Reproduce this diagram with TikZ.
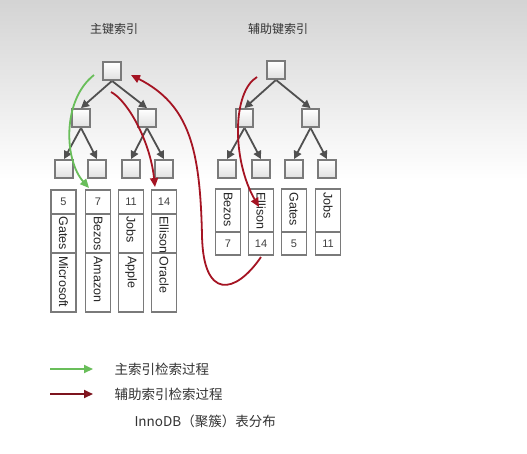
\documentclass[tikz,border=0pt]{standalone}
\usepackage{fontspec}
\setmainfont{Liberation Sans}
\newfontfamily\cjk{Noto Sans CJK SC}
\usetikzlibrary{arrows.meta}
\definecolor{boxgray}{RGB}{122,122,122}
\definecolor{arrgray}{RGB}{80,80,80}
\definecolor{myred}{RGB}{165,20,35}
\definecolor{darkred}{RGB}{125,20,30}
\definecolor{mygreen}{RGB}{105,190,90}
\definecolor{txt}{RGB}{51,51,51}
\begin{document}
\begin{tikzpicture}[x=1pt,y=-1pt,
 treebox/.style={draw=boxgray, line width=2.3pt, minimum size=17.5pt, inner sep=0pt, top color=white, bottom color=black!12},
 treearr/.style={draw=arrgray, line width=1.8pt, -{Triangle[length=8pt,width=8pt]}, shorten <=0.5pt},
 cell/.style={draw=boxgray, line width=1.5pt, fill=white, minimum width=25pt, inner sep=0pt},
 celltext/.style={font=\fontsize{12.5}{12.5}\selectfont, text=black!85, inner sep=0pt, rotate=-90, anchor=west},
 numtext/.style={font=\fontsize{11}{11}\selectfont, text=black!75},
 titletext/.style={font=\cjk\fontsize{12}{12}\selectfont, text=txt},
 legtext/.style={font=\cjk\fontsize{13.5}{13.5}\selectfont, text=txt, anchor=west},
 redpath/.style={draw=myred, line width=1.8pt, -{Triangle[length=9pt,width=8pt]}},
 greenpath/.style={draw=mygreen, line width=1.8pt, -{Triangle[length=9pt,width=8pt]}},
]
\useasboundingbox (0,0) rectangle (527,453);
\fill[white] (0,0) rectangle (527,453);
\shade[top color=black!17, bottom color=white] (0,0) rectangle (527,180);

% titles
\node[titletext] (t1) at (114,29) {主键索引};
\node[titletext] (t2) at (278,29) {辅助键索引};

% left tree
\node[treebox] (l0) at (112,71) {};
\node[treebox] (l1a) at (81,118) {};
\node[treebox] (l1b) at (147,118) {};
\node[treebox] (l2a) at (64,169) {};
\node[treebox] (l2b) at (97,169) {};
\node[treebox] (l2c) at (131,169) {};
\node[treebox] (l2d) at (164,169) {};
\draw[treearr] (l0.south) -- (l1a.north);
\draw[treearr] (l0.south) -- (l1b.north);
\draw[treearr] (l1a.south) -- (l2a.north);
\draw[treearr] (l1a.south) -- (l2b.north);
\draw[treearr] (l1b.south) -- (l2c.north);
\draw[treearr] (l1b.south) -- (l2d.north);

% right tree
\node[treebox] (r0) at (276,70) {};
\node[treebox] (r1a) at (244.5,118) {};
\node[treebox] (r1b) at (310.5,118) {};
\node[treebox] (r2a) at (227,169) {};
\node[treebox] (r2b) at (261,169) {};
\node[treebox] (r2c) at (294,169) {};
\node[treebox] (r2d) at (327,169) {};
\draw[treearr] (r0.south) -- (r1a.north);
\draw[treearr] (r0.south) -- (r1b.north);
\draw[treearr] (r1a.south) -- (r2a.north);
\draw[treearr] (r1a.south) -- (r2b.north);
\draw[treearr] (r1b.south) -- (r2c.north);
\draw[treearr] (r1b.south) -- (r2d.north);

% left data columns
\foreach \i/\x/\n/\a/\b in {1/63.5/5/Gates/Microsoft, 2/98/7/Bezos/Amazon, 3/131/11/Jobs/Apple, 4/164/14/Ellison/Oracle}{
  \node[cell, minimum height=24pt, numtext] (ln\i) at (\x,202) {\n};
  \node[cell, minimum height=39pt] (lm\i) at (\x,233.5) {};
  \node[cell, minimum height=59pt] (lc\i) at (\x,282.5) {};
  \node[celltext] (lmt\i) at ([yshift=-3pt]lm\i.north) {\a};
  \node[celltext] (lct\i) at ([yshift=-4pt]lc\i.north) {\b};
}

% right data columns
\foreach \i/\x/\n/\a in {1/228/7/Bezos, 2/261/14/Ellison, 3/294/5/Gates, 4/328/11/Jobs}{
  \node[cell, minimum height=43pt] (rm\i) at (\x,210.5) {};
  \node[cell, minimum height=23pt, numtext] (rn\i) at (\x,243.5) {\n};
  \node[celltext] (rmt\i) at ([yshift=-4pt]rm\i.north) {\a};
}

% search paths
\coordinate (g0) at (94,75);
\coordinate (g1) at (89,188);
\draw[greenpath] (g0) .. controls (62,100) and (64,160) .. (g1);

\coordinate (a0) at (111,92);
\coordinate (a1) at (155,187);
\draw[redpath] (a0) .. controls (127,100) and (150,140) .. (a1);

\coordinate (b0) at (257,77);
\coordinate (b1) at (259,207);
\draw[redpath] (b0) .. controls (232,92) and (232,160) .. (b1);

\coordinate (c0) at (261,257);
\coordinate (c1) at (202,235);
\coordinate (c2) at (131,75);
\draw[redpath] (c0) .. controls (235,295) and (203,300) .. (c1) .. controls (200,150) and (190,105) .. (c2);

% legend
\coordinate (lg0) at (50,369);
\coordinate (lg1) at (93,369);
\draw[greenpath, line width=2pt] (lg0) -- (lg1);
\node[legtext] (lgt) at (111,369) {主索引检索过程};
\coordinate (lr0) at (50,394);
\coordinate (lr1) at (93,394);
\draw[draw=darkred, line width=2pt, -{Triangle[length=9pt,width=8pt,fill=myred]}] (lr0) -- (lr1);
\node[legtext] (lrt) at (111,394) {辅助索引检索过程};
\node[legtext] (cap) at (131,421) {InnoDB（聚簇）表分布};
\end{tikzpicture}
\end{document}
